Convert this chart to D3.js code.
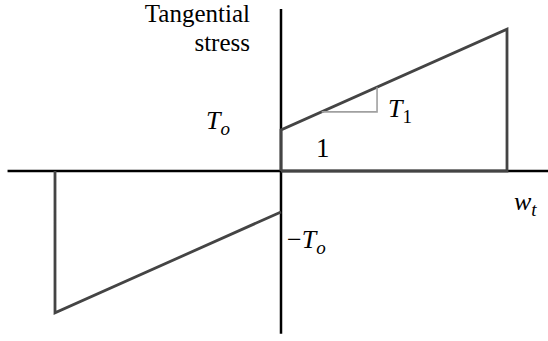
<!DOCTYPE html>
<html>
<head>
<meta charset="utf-8">
<script src="https://cdn.jsdelivr.net/npm/d3@7"></script>
<style>
  body { margin: 0; background: #fff; }
</style>
</head>
<body>
<div id="canvas"></div>
<script>
// Slip (w) and tangential stress of the two branches, in units of wt and To.
const rightW = [0, 0, 1, 1, 0];
const rightStress = [0, 1, 3.46, 0, 0];
const leftW = [0, -1, -1];
const leftStress = [-1, -3.46, 0];
// The little slope triangle on the right branch.
const triW = [0.18, 0.425];
// Axis extents.
const axisW = [-1.21, 1.19];
const axisStress = [-3.97, 3.95];
// Labels.
const titleLines = ["Tangential", "stress"];

const w = 548, h = 341;
const serif = "\"Liberation Serif\", monospace";

const svg = d3.select("#canvas")
    .append("svg")
    .attr("width", w)
    .attr("height", h);

const x = d3.scaleLinear().domain([-1, 1]).range([55, 507]);
const y = d3.scaleLinear().domain([-4, 4]).range([335, 7]);

const line = d3.line()
    .x(d => x(d[0]))
    .y(d => y(d[1]));

// Axes.
svg.append("line")
    .attr("x1", x(axisW[0])).attr("x2", x(axisW[1]))
    .attr("y1", y(0)).attr("y2", y(0))
    .attr("stroke", "#000").attr("stroke-width", 2.5);
svg.append("line")
    .attr("x1", x(0)).attr("x2", x(0))
    .attr("y1", y(axisStress[0])).attr("y2", y(axisStress[1]))
    .attr("stroke", "#000").attr("stroke-width", 2.5);

// Stress branches.
svg.append("path")
    .attr("d", line(rightW.map((d, i) => [d, rightStress[i]])))
    .attr("fill", "none").attr("stroke", "#444")
    .attr("stroke-width", 2.8).attr("stroke-linejoin", "miter");
svg.append("path")
    .attr("d", line(leftW.map((d, i) => [d, leftStress[i]])))
    .attr("fill", "none").attr("stroke", "#444")
    .attr("stroke-width", 2.8).attr("stroke-linejoin", "miter");

// Slope triangle.
const slope = (rightStress[2] - rightStress[1]) / (rightW[2] - rightW[1]);
const onLine = v => rightStress[1] + slope * v;
svg.append("path")
    .attr("d", line([[triW[0], onLine(triW[0])], [triW[1], onLine(triW[0])], [triW[1], onLine(triW[1])]]))
    .attr("fill", "none").attr("stroke", "#a0a0a0").attr("stroke-width", 1.6);

// Axis title, one text element per line.
svg.selectAll(".title").data(titleLines).join("text")
    .attr("class", "title")
    .attr("x", 250)
    .attr("y", (d, i) => 22 + i * 29)
    .attr("text-anchor", "end")
    .style("font-family", serif)
    .style("font-size", "25px")
    .attr("fill", "#000")
    .text(d => d);

// Math labels.
function mathLabel(px, py, pre, main, sub) {
    const t = svg.append("text")
        .attr("x", px).attr("y", py)
        .style("font-family", serif)
        .style("font-size", "26px")
        .attr("fill", "#000");
    if (pre) t.append("tspan").text(pre);
    t.append("tspan").style("font-style", "italic").text(main);
    if (sub) t.append("tspan")
        .style("font-style", sub === "1" ? "normal" : "italic")
        .style("font-size", "19px").attr("dy", 6).text(sub);
}

mathLabel(x(0) - 75, y(1) - 1, null, "T", "o");
mathLabel(x(0) + 6, y(-1) + 36, "\u2212", "T", "o");
mathLabel(x(triW[1]) + 11, y(onLine(triW[0])) + 5, null, "T", "1");
mathLabel(x(1) + 7, y(0) + 39, null, "w", "t");

svg.append("text")
    .attr("x", x(0.155)).attr("y", y(0) - 14)
    .style("font-family", serif)
    .style("font-size", "27px")
    .attr("fill", "#000")
    .text("1");
</script>
</body>
</html>
